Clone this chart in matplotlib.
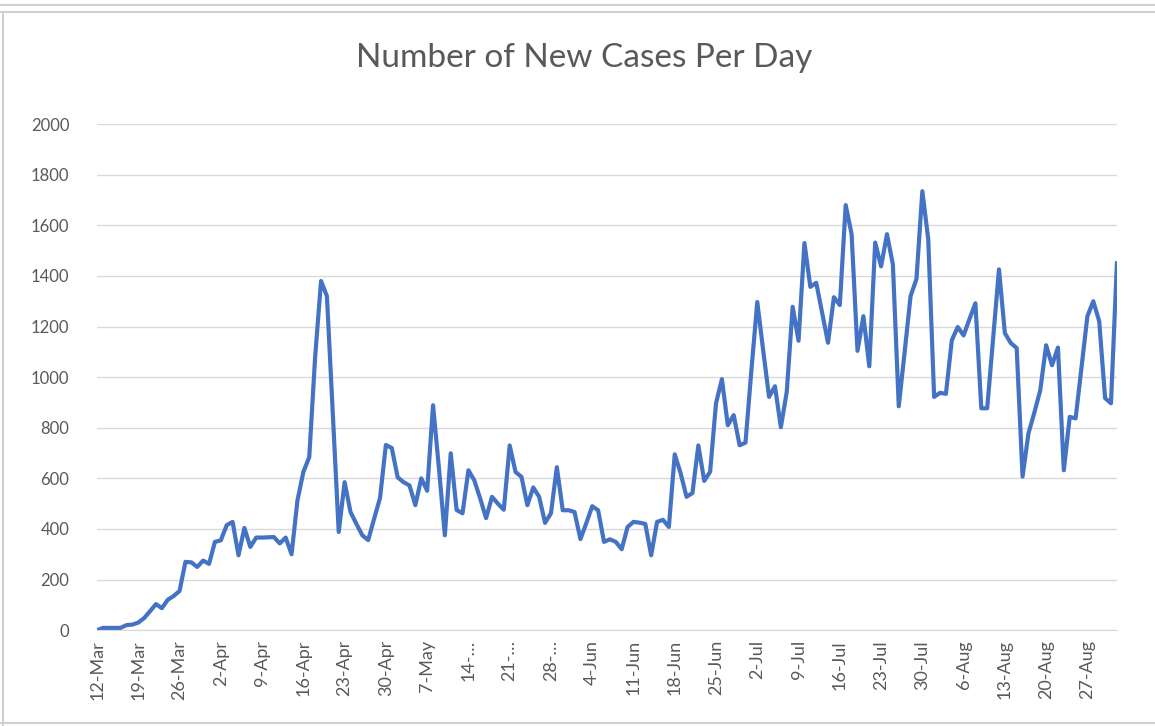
# ============================================================
# Número de casos nuevos por día (gráfico de línea estilo Excel)
# ============================================================
import matplotlib
matplotlib.use('Agg')

import numpy as np
import pandas as pd
import matplotlib.pyplot as plt
from matplotlib.lines import Line2D

# ============================================================
# 1. DATOS
# ============================================================
fechas = pd.date_range('2020-03-12', periods=174, freq='D')

casos = [
    0, 9, 9, 9, 9, 20, 22, 30, 48, 75,
    103, 87, 120, 135, 155, 270, 268, 250, 275, 262,
    349, 355, 415, 428, 296, 404, 329, 366, 366, 367,
    368, 343, 366, 300, 513, 625, 684, 1080, 1380, 1320,
    850, 388, 585, 467, 420, 375, 356, 440, 522, 732,
    720, 604, 585, 572, 494, 600, 551, 889, 640, 375,
    699, 475, 462, 632, 592, 520, 443, 527, 500, 476,
    730, 625, 606, 494, 564, 527, 424, 462, 644, 474,
    474, 467, 360, 423, 490, 474, 349, 359, 349, 320,
    408, 428, 425, 420, 296, 428, 436, 408, 695, 620,
    527, 542, 730, 590, 626, 897, 992, 810, 850, 731,
    741, 1027, 1297, 1106, 922, 964, 802, 942, 1278, 1144,
    1530, 1357, 1373, 1255, 1136, 1316, 1285, 1680, 1565, 1104,
    1241, 1043, 1532, 1438, 1565, 1446, 885, 1100, 1320, 1388,
    1735, 1545, 922, 938, 934, 1146, 1198, 1165, 1230, 1292,
    877, 877, 1150, 1426, 1174, 1135, 1115, 607, 778, 860,
    948, 1126, 1047, 1117, 632, 843, 837, 1040, 1241, 1300,
    1221, 917, 897, 1450,
]

etiquetas_x = [
    '12-Mar', '19-Mar', '26-Mar', '2-Apr', '9-Apr', '16-Apr', '23-Apr',
    '30-Apr', '7-May', '14-…', '21-…', '28-…', '4-Jun', '11-Jun',
    '18-Jun', '25-Jun', '2-Jul', '9-Jul', '16-Jul', '23-Jul', '30-Jul',
    '6-Aug', '13-Aug', '20-Aug', '27-Aug',
]

valores_y = [0, 200, 400, 600, 800, 1000, 1200, 1400, 1600, 1800, 2000]

# ============================================================
# 2. ESTILO
# ============================================================
plt.rcParams['font.family'] = ['Lato', 'DejaVu Sans']
AZUL = '#4472C4'
GRIS_TEXTO = '#595959'
GRIS_REJILLA = '#D9D9D9'

# ============================================================
# 3. FIGURA
# ============================================================
fig = plt.figure(figsize=(11.55, 7.26), dpi=100)
ax = fig.add_axes([0.084, 0.132, 0.883, 0.697])

x = np.arange(len(fechas))
ax.plot(x, casos, color=AZUL, linewidth=3.0, solid_joinstyle='round')

ax.set_xlim(0, len(fechas) - 1)
ax.set_ylim(0, 2000)
ax.set_yticks(valores_y)
ax.set_yticklabels([str(v) for v in valores_y])
ax.set_xticks(x[::7])
ax.set_xticklabels(etiquetas_x, rotation=90)

ax.grid(axis='y', color=GRIS_REJILLA, linewidth=1)
ax.set_axisbelow(True)
for lado in ['top', 'right', 'left']:
    ax.spines[lado].set_visible(False)
ax.spines['bottom'].set_color(GRIS_REJILLA)
ax.tick_params(axis='both', length=0, colors=GRIS_TEXTO)
ax.tick_params(axis='y', pad=20, labelsize=12)
ax.tick_params(axis='x', pad=7, labelsize=13)

fig.text(0.506, 0.92, 'Number of New Cases Per Day', ha='center', va='center',
         fontsize=24, color=GRIS_TEXTO)

# bordes de las celdas de la hoja de cálculo
for y in [1 - 5 / 726, 1 - 12 / 726, 3 / 726]:
    fig.add_artist(Line2D([0, 1], [y, y], color='#D0D0D0', linewidth=1.5,
                          transform=fig.transFigure))
fig.add_artist(Line2D([3 / 1155, 3 / 1155], [0, 1 - 12 / 726], color='#D0D0D0',
                      linewidth=1.5, transform=fig.transFigure))

fig.savefig('out.png', dpi=100)
plt.close(fig)
